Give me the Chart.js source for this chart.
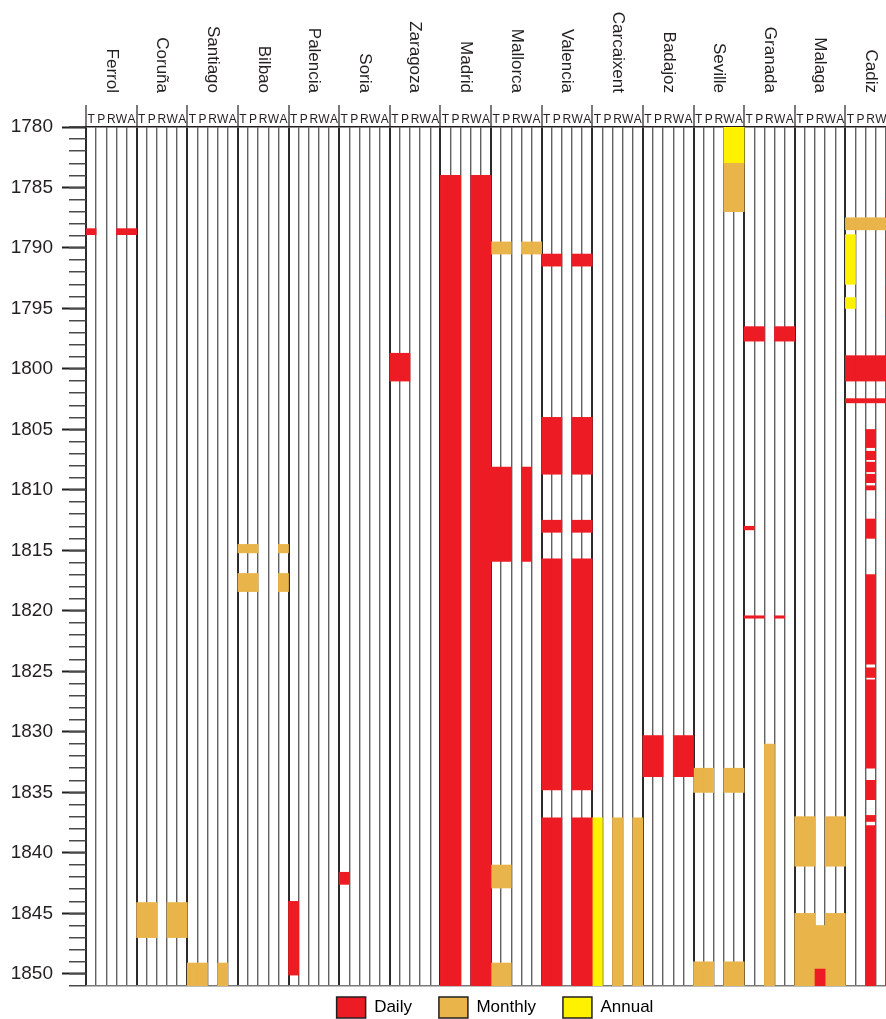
<!DOCTYPE html>
<html>
<head>
    <meta charset="utf-8">
    <title>Station records 1780-1850</title>
    <script src="https://cdn.jsdelivr.net/npm/chart.js"></script>
    <style>
        html, body {
            margin: 0;
            padding: 0;
            overflow: hidden;
            background: #fff;
        }
        canvas {
            display: block;
        }
    </style>
</head>
<body>
<canvas id="recordChart" width="896" height="1019"></canvas>

<script>
    const stations = ['Ferrol', 'Coruña', 'Santiago', 'Bilbao', 'Palencia', 'Soria', 'Zaragoza', 'Madrid',
        'Mallorca', 'Valencia', 'Carcaixent', 'Badajoz', 'Seville', 'Granada', 'Malaga', 'Cadiz'];
    const variables = ['T', 'P', 'R', 'W', 'A'];
    const yearMin = 1780;
    const yearMax = 1851;
    const yearLabelStep = 5;

    // [station, columns covered, from year, to year]
    const daily = [
        ['Ferrol', 'T', 1788.4, 1788.9],
        ['Ferrol', 'WA', 1788.4, 1788.9],
        ['Palencia', 'T', 1844.0, 1850.1],
        ['Soria', 'T', 1841.6, 1842.6],
        ['Zaragoza', 'TP', 1798.7, 1801.0],
        ['Madrid', 'TPWA', 1784.0, 1851],
        ['Mallorca', 'TPW', 1808.1, 1815.9],
        ['Valencia', 'TPWA', 1790.5, 1791.5],
        ['Valencia', 'TPWA', 1804.0, 1808.7],
        ['Valencia', 'TPWA', 1812.5, 1813.5],
        ['Valencia', 'TPWA', 1815.7, 1834.8],
        ['Valencia', 'TPWA', 1837.1, 1851],
        ['Badajoz', 'TPWA', 1830.3, 1833.7],
        ['Granada', 'TPWA', 1796.5, 1797.7],
        ['Granada', 'T', 1813.0, 1813.3],
        ['Granada', 'TPW', 1820.4, 1820.6],
        ['Malaga', 'R', 1849.6, 1851],
        ['Cadiz', 'A', 1786.0, 1787.5],
        ['Cadiz', 'A', 1789.0, 1792.4],
        ['Cadiz', 'A', 1793.2, 1795.6],
        ['Cadiz', 'TPRW', 1798.9, 1801.0],
        ['Cadiz', 'A', 1798.9, 1801.55],
        ['Cadiz', 'TPRW', 1802.45, 1802.8],
        ['Cadiz', 'A', 1802.45, 1810.0],
        ['Cadiz', 'R', 1805.0, 1806.5],
        ['Cadiz', 'R', 1806.8, 1807.5],
        ['Cadiz', 'R', 1807.7, 1808.5],
        ['Cadiz', 'R', 1808.7, 1809.4],
        ['Cadiz', 'R', 1809.65, 1810.0],
        ['Cadiz', 'RA', 1812.4, 1814.0],
        ['Cadiz', 'A', 1816.7, 1851],
        ['Cadiz', 'R', 1817.0, 1824.4],
        ['Cadiz', 'R', 1824.7, 1825.5],
        ['Cadiz', 'R', 1825.7, 1833.0],
        ['Cadiz', 'R', 1834.0, 1835.6],
        ['Cadiz', 'R', 1836.9, 1837.4],
        ['Cadiz', 'R', 1837.75, 1851]
    ];

    const monthly = [
        ['Coruña', 'TPWA', 1844.1, 1847.0],
        ['Santiago', 'TPW', 1849.1, 1851],
        ['Bilbao', 'TPA', 1814.5, 1815.2],
        ['Bilbao', 'TPA', 1816.9, 1818.4],
        ['Mallorca', 'TPWA', 1789.5, 1790.5],
        ['Mallorca', 'TP', 1841.0, 1842.9],
        ['Mallorca', 'TP', 1849.1, 1851],
        ['Carcaixent', 'RA', 1837.1, 1851],
        ['Seville', 'WA', 1783.0, 1787.0],
        ['Seville', 'TPWA', 1833.0, 1835.0],
        ['Seville', 'TPWA', 1849.0, 1851],
        ['Granada', 'R', 1831.0, 1851],
        ['Malaga', 'TPWA', 1837.0, 1841.1],
        ['Malaga', 'TPWA', 1845.0, 1851],
        ['Malaga', 'R', 1846.0, 1849.6],
        ['Cadiz', 'TPRWA', 1787.5, 1788.5]
    ];

    const annual = [
        ['Seville', 'WA', 1780, 1783.0],
        ['Carcaixent', 'T', 1837.1, 1851],
        ['Cadiz', 'T', 1788.9, 1793.0],
        ['Cadiz', 'T', 1794.1, 1795.0]
    ];

    const types = ['Daily', 'Monthly', 'Annual'];
    const typeColors = ['#ED1C24', '#E9B54A', '#FFF200'];
    const typeRecords = [daily, monthly, annual];

    const ink = '#231f20';
    Chart.defaults.font.family = "'Liberation Sans', Arial, Helvetica, sans-serif";
    Chart.defaults.color = ink;

    // one category per station/variable column
    const columns = [];
    stations.forEach(() => variables.forEach(v => columns.push(v)));

    // records of one type are spread over as many datasets as needed so that
    // each dataset holds at most one bar per column
    const datasets = [];
    typeRecords.forEach((records, t) => {
        const layers = [];
        records.forEach(([station, cols, from, to]) => {
            const base = stations.indexOf(station) * variables.length;
            cols.split('').forEach(v => {
                const col = base + variables.indexOf(v);
                let layer = layers.find(l => l[col] === null);
                if (!layer) {
                    layer = columns.map(() => null);
                    layers.push(layer);
                }
                layer[col] = [from, to];
            });
        });
        layers.forEach(data => datasets.push({
            label: types[t],
            data: data,
            backgroundColor: typeColors[t]
        }));
    });

    const colIndex = ctx => (ctx.type === 'tick' ? ctx.index : columns.length);
    const isStationEdge = ctx => colIndex(ctx) % variables.length === 0;

    const headerAndLegend = {
        id: 'headerAndLegend',
        afterLayout(chart) {
            // legend items sit just under the plot
            const legend = chart.legend;
            legend.top -= 16;
            legend.height += 16;
            legend.left += 4;
            legend.right += 4;
        },
        afterDraw(chart) {
            const x = chart.scales.x;
            const ctx = chart.ctx;
            ctx.save();
            ctx.font = "17px 'Liberation Sans', Arial, Helvetica, sans-serif";
            ctx.fillStyle = ink;
            ctx.textAlign = 'right';
            ctx.textBaseline = 'middle';
            stations.forEach((name, i) => {
                const first = i * variables.length;
                const cx = (x.getPixelForValue(first) + x.getPixelForValue(first + variables.length - 1)) / 2;
                ctx.save();
                ctx.translate(cx, 93);
                ctx.rotate(Math.PI / 2);
                ctx.fillText(name, 0, 0);
                ctx.restore();
            });
            ctx.restore();
        }
    };

    new Chart(document.getElementById('recordChart'), {
        type: 'bar',
        data: {
            labels: columns,
            datasets: datasets
        },
        options: {
            responsive: false,
            animation: false,
            layout: {
                padding: {top: 100, left: 0, right: 0, bottom: 0}
            },
            datasets: {
                bar: {
                    grouped: false,
                    barPercentage: 1,
                    categoryPercentage: 1,
                    borderWidth: 0
                }
            },
            scales: {
                x: {
                    position: 'top',
                    z: 1,
                    afterFit: s => { s.height = 27; },
                    ticks: {
                        autoSkip: false,
                        maxRotation: 0,
                        padding: -22,
                        color: ink,
                        font: {size: 12}
                    },
                    grid: {
                        offset: true,
                        tickLength: 22,
                        color: ctx => isStationEdge(ctx) ? 'rgba(35,31,32,0.95)' : 'rgba(30,30,30,0.7)',
                        lineWidth: ctx => isStationEdge(ctx) ? 2 : 1.4,
                        tickColor: ctx => isStationEdge(ctx) ? ink : 'transparent',
                        tickWidth: 1.2
                    },
                    border: {display: true, color: ink, width: 1.5}
                },
                y: {
                    type: 'linear',
                    position: 'left',
                    weight: 1,
                    reverse: true,
                    min: yearMin,
                    max: yearMax,
                    bounds: 'data',
                    afterFit: s => { s.width = 86; },
                    ticks: {
                        stepSize: yearLabelStep,
                        includeBounds: false,
                        padding: 9,
                        color: ink,
                        font: {size: 19},
                        callback: v => (v % yearLabelStep === 0 ? String(v) : '')
                    },
                    grid: {
                        drawOnChartArea: false,
                        tickLength: 24,
                        tickWidth: 2,
                        tickColor: ctx => (ctx.tick && ctx.tick.value % yearLabelStep === 0 ? ink : 'transparent')
                    },
                    border: {display: false}
                },
                yMinor: {
                    type: 'linear',
                    position: 'left',
                    weight: 0,
                    reverse: true,
                    min: yearMin,
                    max: yearMax,
                    bounds: 'data',
                    afterFit: s => { s.width = 0; },
                    ticks: {
                        display: false,
                        stepSize: 1
                    },
                    grid: {
                        drawOnChartArea: true,
                        tickLength: 17,
                        tickWidth: 1.5,
                        tickColor: '#4a4a4a',
                        lineWidth: 1.5,
                        color: ctx => (ctx.tick && ctx.tick.value === yearMax ? '#7a7a7a' : 'transparent')
                    },
                    border: {display: false}
                }
            },
            plugins: {
                tooltip: {enabled: false},
                legend: {
                    position: 'bottom',
                    fullSize: false,
                    maxHeight: 33,
                    labels: {
                        boxWidth: 29,
                        boxHeight: 21,
                        padding: 27,
                        color: ink,
                        font: {size: 17},
                        generateLabels: () => types.map((t, i) => ({
                            text: t,
                            fillStyle: typeColors[i],
                            strokeStyle: ink,
                            lineWidth: 1.5,
                            hidden: false,
                            datasetIndex: i
                        }))
                    }
                }
            }
        },
        plugins: [headerAndLegend]
    });
</script>
</body>
</html>
